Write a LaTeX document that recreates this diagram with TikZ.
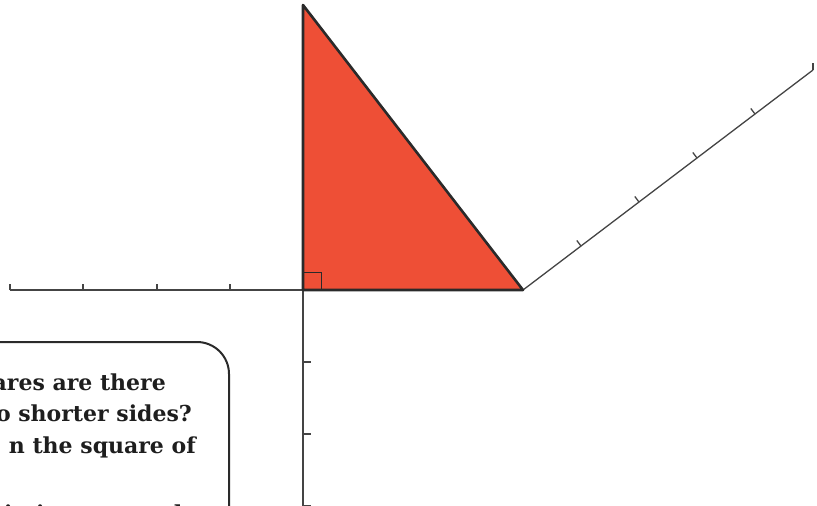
\documentclass[tikz,border=0pt]{standalone}
\usepackage{fontspec}
\setmainfont{DejaVu Serif}
\usetikzlibrary{calc}
\definecolor{trired}{HTML}{EE4F36}
\definecolor{edgegray}{HTML}{2A2A2A}
\definecolor{axisgray}{HTML}{444444}
\definecolor{textcol}{HTML}{1E1E1E}
\begin{document}
\begin{tikzpicture}[x=1pt,y=-1pt,
  axis/.style={draw=axisgray, line width=1.3pt},
  tickline/.style={draw=axisgray, line width=1.3pt},
  tri/.style={fill=trired, draw=edgegray, line width=2.6pt, line join=round},
  rmark/.style={draw=edgegray, line width=0.9pt},
  boxline/.style={draw=edgegray, line width=2pt, rounded corners=32pt},
  qtext/.style={font=\bfseries\fontsize{22}{26}\selectfont, inner sep=0pt, text=textcol}]
\useasboundingbox (0,0) rectangle (817,506);
\clip (0,0) rectangle (817,506);
% points
\coordinate (A) at (303,290);
\coordinate (B) at (303,5);
\coordinate (C) at (523,290);
\coordinate (D) at (813,70);
\coordinate (L) at (10,290);
\coordinate (V) at (303,515);
% horizontal axis
\draw[axis] (L) -- (A);
\foreach \x in {10,83,157,230}{
  \draw[tickline] (\x,290) -- (\x,284);
}
% vertical axis
\draw[axis] (A) -- (V);
\foreach \y in {362,434,506}{
  \draw[tickline] (303,\y) -- (311,\y);
}
% diagonal line perpendicular to hypotenuse
\draw[axis] (C) -- (D);
\foreach \t in {0.2,0.4,0.6,0.8,1}{
  \coordinate (P) at ($(C)!\t!(D)$);
  \draw[tickline] (P) -- ($(P)!7pt!90:(D)$);
}
% triangle
\draw[tri] (A) -- (B) -- (C) -- cycle;
\draw[rmark] (A) rectangle (321,272);
% text box
\draw[boxline] (-20,342) -- (229,342) -- (229,540);
\node[qtext, anchor=base east] (t1) at (166,390) {ares are there};
\node[qtext, anchor=base east] (t2) at (192,421) {o shorter sides?};
\node[qtext, anchor=base east] (t3) at (196,453) {n the square of};
\node[qtext, anchor=base west] (t4) at (4,521) {in its area and};
\end{tikzpicture}
\end{document}
